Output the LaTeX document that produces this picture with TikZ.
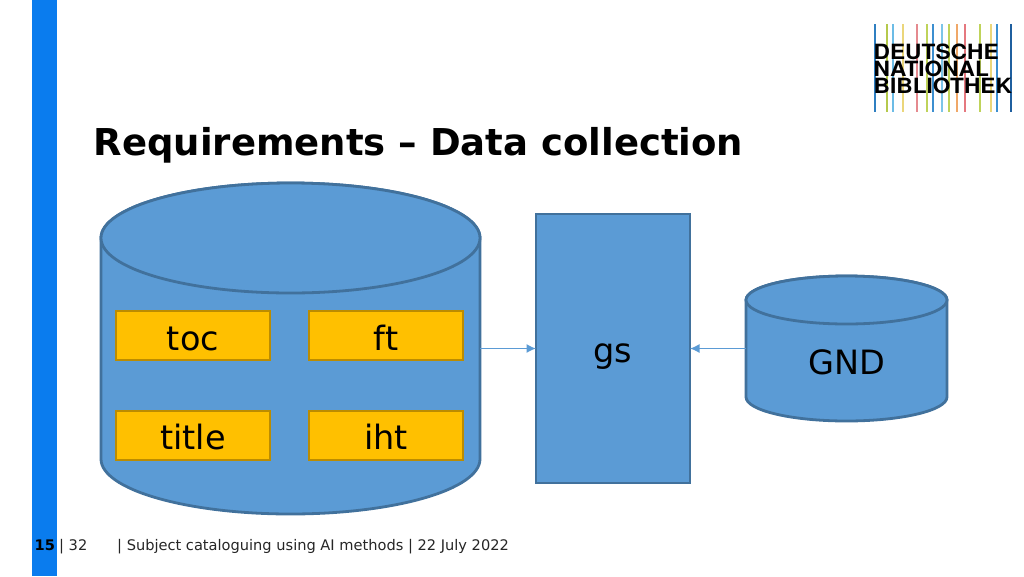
\documentclass[tikz,border=0pt]{standalone}
\usepackage{fontspec}
\setmainfont{DejaVu Sans}
\newfontfamily\logofont{TeX Gyre Heros}
\usetikzlibrary{arrows.meta}
\definecolor{bar}{HTML}{0A7CEE}
\definecolor{fillblue}{HTML}{5B9BD5}
\definecolor{edgeblue}{HTML}{41719C}
\definecolor{amber}{HTML}{FFC000}
\definecolor{amberedge}{HTML}{BC8C00}
\tikzset{
  x=1pt,y=-1pt,
  shp/.style={fill=fillblue,draw=edgeblue,line width=2.8pt},
  tag/.style={fill=amber,draw=amberedge,line width=2.8pt,minimum width=154pt,minimum height=49pt,inner sep=0pt,outer sep=0pt},
  lbl/.style={font=\fontsize{33.5}{36}\selectfont,text=black,anchor=base,inner sep=0pt},
  anchorbox/.style={inner sep=0pt,outer sep=0pt,draw=none},
  link/.style={draw=fillblue,line width=1.3pt,-{Latex[length=9.5pt,width=9pt]}},
  stripe/.style={line width=1.6pt},
  foot/.style={font=\fontsize{14.6}{16}\selectfont,text=black!85,anchor=base west,inner sep=0pt},
  logotext/.style={font=\logofont\bfseries\fontsize{21}{22}\selectfont,anchor=base west,inner sep=0pt,text=black,xscale=1.08}
}
\begin{document}
\begin{tikzpicture}
\useasboundingbox (0,0) rectangle (1024,576);
\fill[white] (0,0) rectangle (1024,576);
\fill[bar] (32,0) rectangle (56.5,576);
% logo stripes
\foreach \xp/\c in {875/2F7FC1,887/B5C94C,893/6CBCE6,903/EBD67A,917/E58A8F,927/BFD35A,933/3C8FD0,942/7CC4E8,949/BFD35A,957/F0A868,965/E5787F,980/BFD35A,991/EBD67A,997/3C8FD0,1011/1F5F9F}{
  \definecolor{tmpc}{HTML}{\c}
  \draw[stripe,tmpc] (\xp,24) -- (\xp,112);
}
\node[logotext] (logoa) at (873.5,59) {DEUTSCHE};
\node[logotext] (logob) at (873.5,76) {NATIONAL};
\node[logotext] (logoc) at (873.5,93) {BIBLIOTHEK};
% title
\node[anchor=base west,inner sep=0pt,font=\bfseries\fontsize{37}{40}\selectfont,text=black] (title) at (93.5,155) {Requirements – Data collection};
% big cylinder
\draw[shp] (101,238) -- (101,459) arc[start angle=180,end angle=360,x radius=189.5pt,y radius=55pt] -- (480,238) arc[start angle=0,end angle=180,x radius=189.5pt,y radius=55pt] -- cycle;
\draw[shp] (290.5,238) ellipse [x radius=189.5pt,y radius=55pt];
\node[anchorbox,minimum width=379pt,minimum height=331pt] (bigdb) at (290.5,348.5) {};
% small cylinder
\draw[shp] (746,300) -- (746,397) arc[start angle=180,end angle=360,x radius=100.5pt,y radius=24pt] -- (947,300) arc[start angle=0,end angle=180,x radius=100.5pt,y radius=24pt] -- cycle;
\draw[shp] (846.5,300) ellipse [x radius=100.5pt,y radius=24pt];
\node[anchorbox,minimum width=201pt,minimum height=145pt] (smalldb) at (846.5,348.5) {};
\node[lbl] (gnd) at (847,374) {GND};
% gs
\node[shp,minimum width=154pt,minimum height=269pt,inner sep=0pt,outer sep=0pt] (gs) at (613,348.5) {};
\node[lbl] (gslabel) at (613,362) {gs};
% tags
\node[tag] (toc) at (193,335.5) {};
\node[tag] (ft) at (386,335.5) {};
\node[tag] (titlebox) at (193,435.5) {};
\node[tag] (iht) at (386,435.5) {};
\node[lbl] (toclabel) at (193,350) {toc};
\node[lbl] (ftlabel) at (386,350) {ft};
\node[lbl] (titlelabel) at (193,449) {title};
\node[lbl] (ihtlabel) at (386,449) {iht};
% connectors
\draw[link] (bigdb) -- (gs);
\draw[link] (smalldb) -- (gs);
% footer
\node[foot,font=\bfseries\fontsize{14.6}{16}\selectfont,text=black] (pagenum) at (34.5,550) {15};
\node[foot] (pagetotal) at (59,550) {| 32};
\node[foot] (foottext) at (117,550) {| Subject cataloguing using AI methods | 22 July 2022};
\end{tikzpicture}
\end{document}
